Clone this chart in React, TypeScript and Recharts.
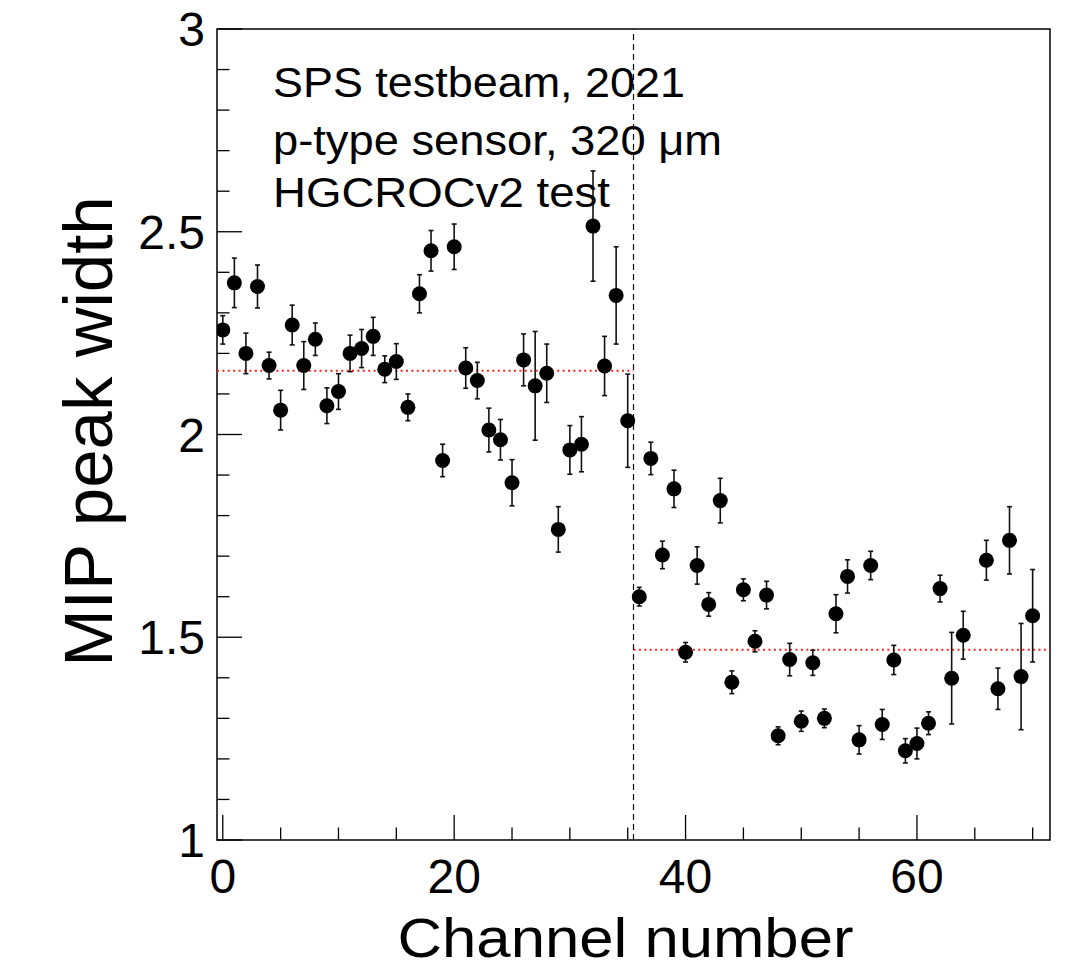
import {
  ErrorBar,
  ReferenceArea,
  ReferenceLine,
  Scatter,
  ScatterChart,
  XAxis,
  YAxis,
} from 'recharts'

// channel 65 has no fit result
const channels = [
  0, 1, 2, 3, 4, 5, 6, 7, 8, 9, 10, 11, 12, 13, 14, 15, 16, 17, 18, 19, 20, 21, 22, 23, 24, 25, 26, 27, 28, 29,
  30, 31, 32, 33, 34, 35, 36, 37, 38, 39, 40, 41, 42, 43, 44, 45, 46, 47, 48, 49, 50, 51, 52, 53, 54, 55, 56,
  57, 58, 59, 60, 61, 62, 63, 64, 66, 67, 68, 69, 70,
]
const peakWidth = [
  2.258, 2.374, 2.2, 2.365, 2.17, 2.06, 2.27, 2.17, 2.235, 2.071, 2.106, 2.2, 2.212, 2.242, 2.161, 2.18, 2.067,
  2.347, 2.453, 1.936, 2.463, 2.164, 2.133, 2.011, 1.987, 1.881, 2.184, 2.12, 2.151, 1.766, 1.962, 1.976, 2.514,
  2.169, 2.343, 2.034, 1.6, 1.941, 1.703, 1.866, 1.463, 1.677, 1.581, 1.837, 1.389, 1.617, 1.49, 1.604, 1.257,
  1.445, 1.293, 1.437, 1.3, 1.558, 1.65, 1.247, 1.677, 1.285, 1.444, 1.22, 1.238, 1.288, 1.62, 1.399, 1.505,
  1.69, 1.373, 1.739, 1.403, 1.553,
]
const peakWidthErr = [
  0.035, 0.061, 0.05, 0.053, 0.033, 0.049, 0.049, 0.059, 0.04, 0.044, 0.044, 0.045, 0.047, 0.047, 0.033, 0.044,
  0.033, 0.047, 0.05, 0.04, 0.056, 0.05, 0.045, 0.054, 0.05, 0.057, 0.064, 0.134, 0.072, 0.056, 0.06, 0.068,
  0.136, 0.073, 0.12, 0.115, 0.023, 0.04, 0.034, 0.046, 0.024, 0.046, 0.029, 0.055, 0.028, 0.027, 0.026, 0.034,
  0.022, 0.04, 0.025, 0.031, 0.023, 0.047, 0.041, 0.035, 0.035, 0.037, 0.036, 0.03, 0.038, 0.028, 0.033, 0.113,
  0.059, 0.049, 0.051, 0.083, 0.131, 0.114,
]

// flat fits on either half of the sensor
const halfBoundary = 35.5
const fitLeft = 2.157
const fitRight = 1.469

const xTicks = [0, 5, 10, 15, 20, 25, 30, 35, 40, 45, 50, 55, 60, 65, 70]
const xLabels = [0, 20, 40, 60]
const yTicks = [
  1, 1.1, 1.2, 1.3, 1.4, 1.5, 1.6, 1.7, 1.8, 1.9, 2, 2.1, 2.2, 2.3, 2.4, 2.5, 2.6, 2.7, 2.8, 2.9, 3,
]
const yLabels = [1, 1.5, 2, 2.5, 3]

const infoLines = ['SPS testbeam, 2021', 'p-type sensor, 320 μm', 'HGCROCv2 test']

const FONT = '"Liberation Sans", Arial, Helvetica, sans-serif'

const data = channels.map((ch, i) => ({ ch, w: peakWidth[i], err: peakWidthErr[i] }))

function XTick(props: any) {
  const { x, y, payload } = props
  const major = xLabels.includes(payload.value)
  return (
    <g>
      <line x1={x} x2={x} y1={y} y2={y - (major ? 25 : 12.5)} stroke="#000" strokeWidth={1.3} />
      {major && (
        <text x={x} y={y + 53} textAnchor="middle" fontSize={48} fontFamily={FONT} fill="#000">
          {payload.value}
        </text>
      )}
    </g>
  )
}

function YTick(props: any) {
  const { x, y, payload } = props
  const major = yLabels.some((v) => Math.abs(v - payload.value) < 1e-6)
  return (
    <g>
      <line x1={x} x2={x + (major ? 25 : 12.5)} y1={y} y2={y} stroke="#000" strokeWidth={1.3} />
      {major && (
        <text x={x - 12} y={y + 17} textAnchor="end" fontSize={48} fontFamily={FONT} fill="#000">
          {payload.value}
        </text>
      )}
    </g>
  )
}

function Dot(props: any) {
  return <circle cx={props.cx} cy={props.cy} r={7.5} fill="#000" />
}

export default function App() {
  return (
    <div style={{ marginTop: -8 }}>
      <ScatterChart width={1051} height={968} margin={{ top: 29, right: 9, bottom: 0, left: 9 }}>
        <XAxis
          type="number"
          dataKey="ch"
          domain={[-0.5, 71.5]}
          ticks={xTicks}
          interval={0}
          allowDataOverflow
          axisLine={false}
          tickLine={false}
          tickSize={0}
          tickMargin={0}
          height={128}
          tick={XTick}
          label={{
            content: (p: any) => {
              const vb = p.viewBox
              return (
                <text
                  x={vb.x + vb.width / 2 - 8}
                  y={vb.y + 117}
                  textAnchor="middle"
                  fontSize={56}
                  fontFamily={FONT}
                  textLength={456}
                  lengthAdjust="spacingAndGlyphs"
                  fill="#000"
                >
                  Channel number
                </text>
              )
            },
          }}
        />
        <YAxis
          type="number"
          dataKey="w"
          domain={[1, 3]}
          ticks={yTicks}
          interval={0}
          allowDataOverflow
          axisLine={false}
          tickLine={false}
          tickSize={0}
          tickMargin={0}
          width={200}
          tick={YTick}
          label={{
            content: (p: any) => {
              const vb = p.viewBox
              const cx = vb.x + 95
              const cy = vb.y + vb.height / 2 - 3
              return (
                <text
                  x={cx}
                  y={cy}
                  transform={`rotate(-90, ${cx}, ${cy})`}
                  textAnchor="middle"
                  fontSize={69}
                  fontFamily={FONT}
                  fill="#000"
                >
                  MIP peak width
                </text>
              )
            },
          }}
        />
        <ReferenceLine
          segment={[
            { x: -0.5, y: fitLeft },
            { x: halfBoundary, y: fitLeft },
          ]}
          stroke="#ff2020"
          strokeWidth={2}
          strokeDasharray="2 3.4"
        />
        <ReferenceLine
          segment={[
            { x: halfBoundary, y: fitRight },
            { x: 71.5, y: fitRight },
          ]}
          stroke="#ff2020"
          strokeWidth={2}
          strokeDasharray="2 3.4"
        />
        <ReferenceLine x={halfBoundary} stroke="#111" strokeWidth={1.2} strokeDasharray="6 4" />
        <Scatter data={data} fill="#000" shape={Dot} isAnimationActive={false}>
          <ErrorBar dataKey="err" direction="y" width={2.5} stroke="#111" strokeWidth={1.6} isAnimationActive={false} />
        </Scatter>
        <ReferenceArea x1={-0.5} x2={71.5} y1={1} y2={3} fill="none" stroke="#000" strokeWidth={1.5} />
        <g>
          {infoLines.map((line, i) => (
            <text
              key={line}
              x={265}
              y={[96.7, 155, 206.7][i]}
              fontSize={43}
              fontFamily={FONT}
              textLength={[412, 449, 337][i]}
              lengthAdjust="spacingAndGlyphs"
              fill="#000"
            >
              {line}
            </text>
          ))}
        </g>
      </ScatterChart>
    </div>
  )
}
